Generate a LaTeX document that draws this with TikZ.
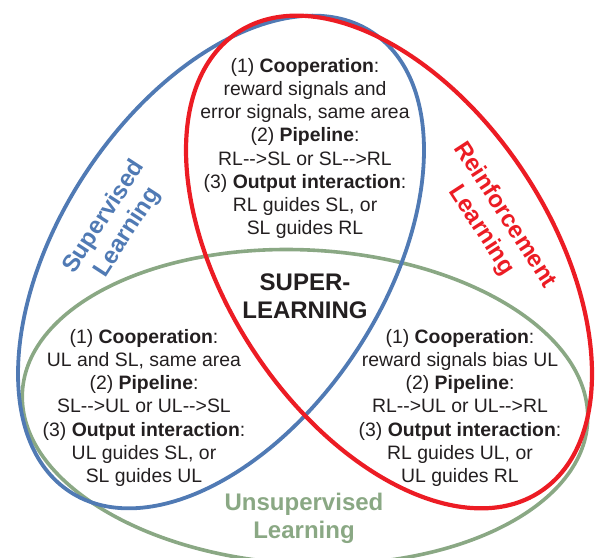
\documentclass[tikz,border=0pt]{standalone}
\usepackage{fontspec}
\setmainfont{Liberation Sans}
\definecolor{slblue}{HTML}{507AB4}
\definecolor{rlred}{HTML}{EC1C24}
\definecolor{ulgreen}{HTML}{8AA884}
\definecolor{ink}{HTML}{231F20}
\begin{document}
\begin{tikzpicture}[x=1pt,y=1pt,
  body/.style={align=center, inner sep=0pt, text=ink, anchor=north,
    font=\fontsize{19.4}{23.2}\selectfont},
  biglabel/.style={align=center, inner sep=0pt,
    font=\fontsize{24}{28}\selectfont\bfseries}]
\clip (0,0) rectangle (596,557);
% Unsupervised Learning (green)
\draw[ulgreen, line width=3.6pt, rotate around={-3:(305,150)}]
  (305,150) ellipse [x radius=283, y radius=157];
% Supervised Learning (blue)
\draw[slblue, line width=3.8pt, rotate around={56.6:(221,295)}]
  (221,295) ellipse [x radius=275, y radius=162];
% Reinforcement Learning (red)
\draw[rlred, line width=4.2pt, rotate around={-56.6:(389,295)}]
  (389,295) ellipse [x radius=275, y radius=162];

% labels of the three circles
\node[biglabel, text=slblue, rotate=57] (sllabel) at (116,332) {Supervised\\Learning};
\node[biglabel, text=rlred, rotate=-57] (rllabel) at (493,334) {Reinforcement\\Learning};
\node[biglabel, text=ulgreen, anchor=north] (ullabel) at (304,66.6) {\strut Unsupervised\\Learning};
\node[biglabel, text=ink, anchor=north] (center) at (305,286.6) {\strut SUPER-\\LEARNING};

% intersection texts
\node[body] (slrl) at (305,501.2) {\strut(1) \textbf{Cooperation}:\\reward signals and\\error signals, same area\\(2) \textbf{Pipeline}:\\RL-{}->SL or SL-{}->RL\\(3) \textbf{Output interaction}:\\RL guides SL, or\\SL guides RL};
\node[body] (slul) at (144,230.2) {\strut(1) \textbf{Cooperation}:\\UL and SL, same area\\(2) \textbf{Pipeline}:\\SL-{}->UL or UL-{}->SL\\(3) \textbf{Output interaction}:\\UL guides SL, or\\SL guides UL};
\node[body] (rlul) at (460,230.2) {\strut(1) \textbf{Cooperation}:\\reward signals bias UL\\(2) \textbf{Pipeline}:\\RL-{}->UL or UL-{}->RL\\(3) \textbf{Output interaction}:\\RL guides UL, or\\UL guides RL};
\end{tikzpicture}
\end{document}
